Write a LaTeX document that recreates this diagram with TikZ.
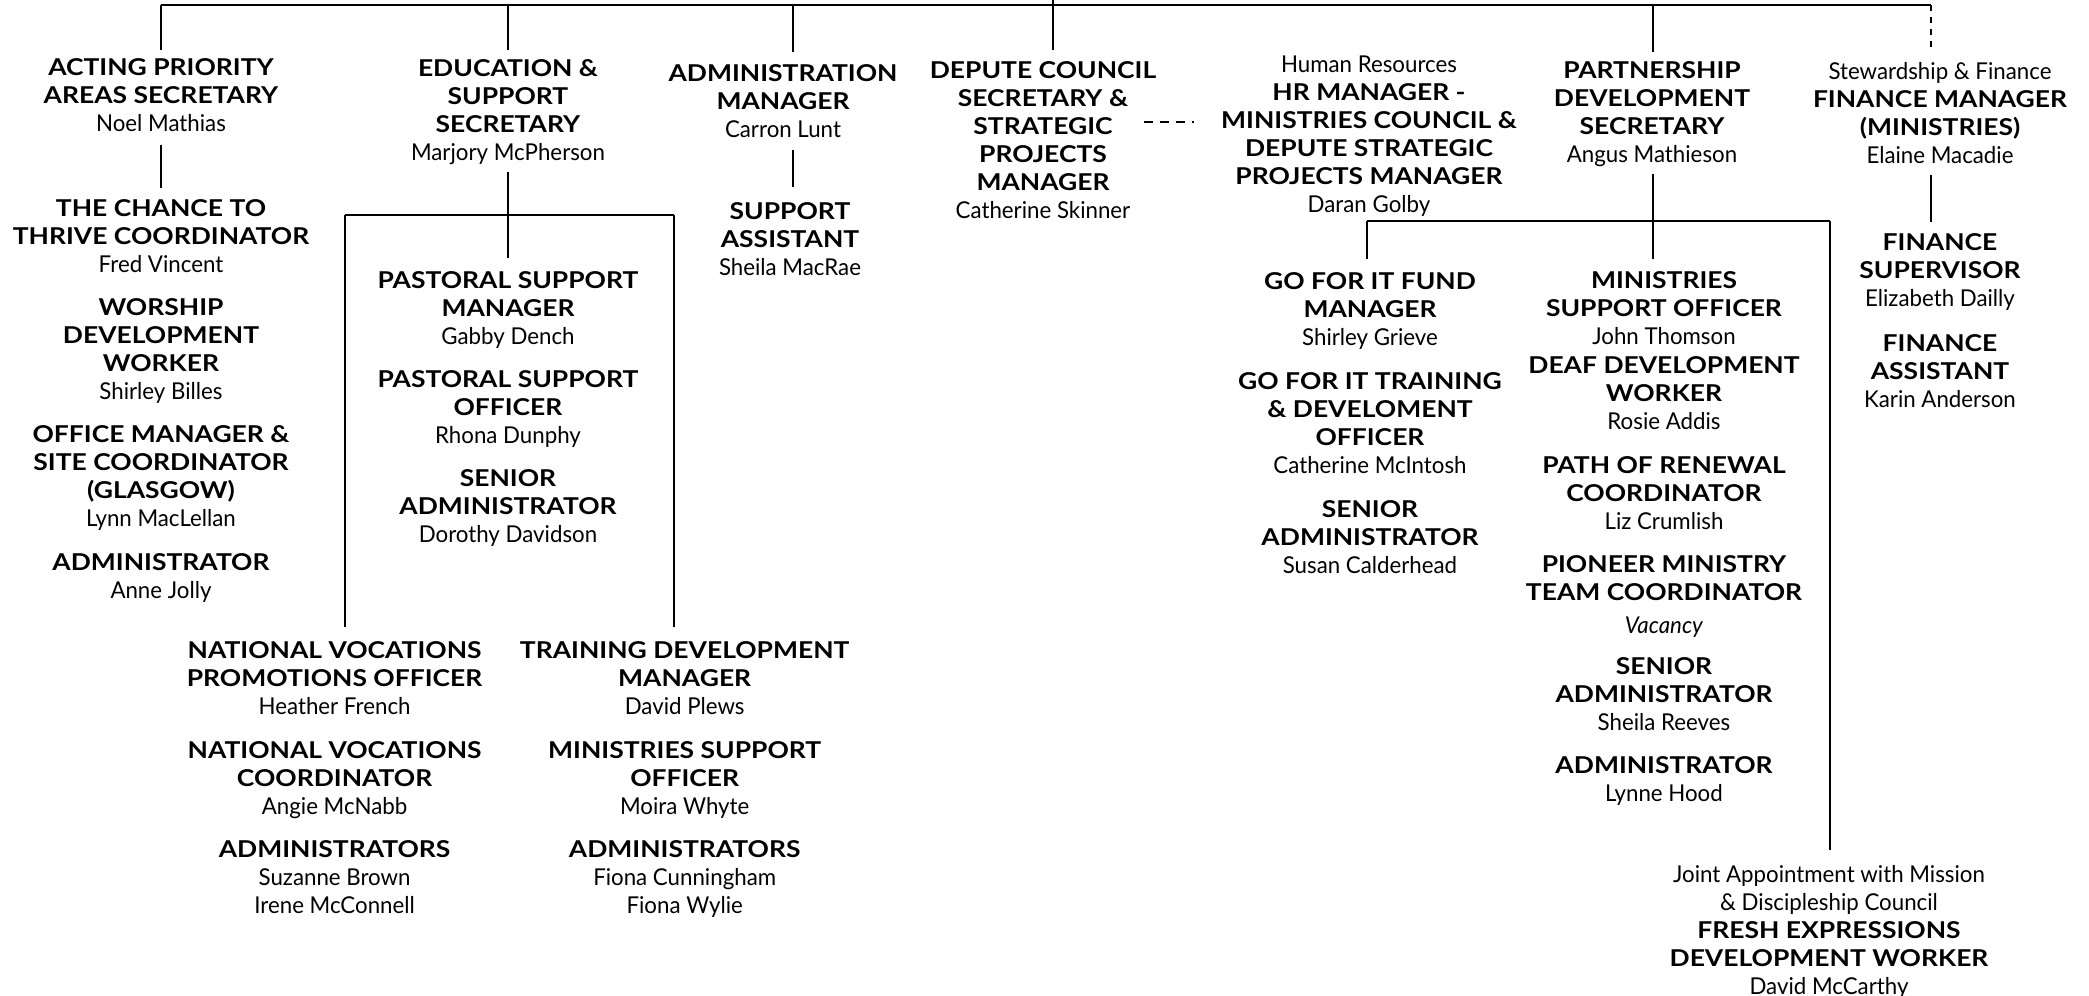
\documentclass[tikz,border=0pt]{standalone}
\usepackage{fontspec}
\setmainfont{Lato}[FakeStretch=0.96]
\newfontfamily\ttlfont{Lato}[FakeStretch=1.14]
\newcommand\rttl[1]{{\ttlfont\bfseries #1}}
\newcommand\rtop{\rule{0pt}{9.5pt}}
\newcommand\rbot{\rule[-3.5pt]{0pt}{3.5pt}}
\begin{document}
\begin{tikzpicture}[x=0.5pt,y=-0.5pt,
  blk/.style={anchor=north, align=center, inner sep=0pt, font=\fontsize{11.6}{14}\selectfont},
  conn/.style={line width=0.9pt, black},
  dconn/.style={line width=0.9pt, black, dash pattern=on 3pt off 3pt}]
\useasboundingbox (0,0) rectangle (2089,996);
% ---- column 1
\node[blk] (a1) at (161,56) {\rtop\rttl{ACTING PRIORITY}\\\rttl{AREAS SECRETARY}\\Noel Mathias\rbot};
\node[blk] (a2) at (161,197) {\rtop\rttl{THE CHANCE TO}\\\rttl{THRIVE COORDINATOR}\\Fred Vincent\rbot};
\node[blk] (a3) at (161,296.3) {\rtop\rttl{WORSHIP}\\\rttl{DEVELOPMENT}\\\rttl{WORKER}\\Shirley Billes\rbot};
\node[blk] (a4) at (161,423.3) {\rtop\rttl{OFFICE MANAGER \&}\\\rttl{SITE COORDINATOR}\\\rttl{(GLASGOW)}\\Lynn MacLellan\rbot};
\node[blk] (a5) at (161,551.3) {\rtop\rttl{ADMINISTRATOR}\\Anne Jolly\rbot};
% ---- column 2
\node[blk] (b1) at (508,57) {\rtop\rttl{EDUCATION \&}\\\rttl{SUPPORT}\\\rttl{SECRETARY}\\Marjory McPherson\rbot};
\node[blk] (b2) at (508,268.6) {\rtop\rttl{PASTORAL SUPPORT}\\\rttl{MANAGER}\\Gabby Dench\rbot};
\node[blk] (b3) at (508,368.3) {\rtop\rttl{PASTORAL SUPPORT}\\\rttl{OFFICER}\\Rhona Dunphy\rbot};
\node[blk] (b4) at (508,467.3) {\rtop\rttl{SENIOR}\\\rttl{ADMINISTRATOR}\\Dorothy Davidson\rbot};
\node[blk] (c1) at (334.6,639.3) {\rtop\rttl{NATIONAL VOCATIONS}\\\rttl{PROMOTIONS OFFICER}\\Heather French\rbot};
\node[blk] (c2) at (334.6,739.3) {\rtop\rttl{NATIONAL VOCATIONS}\\\rttl{COORDINATOR}\\Angie McNabb\rbot};
\node[blk] (c3) at (334.6,837.6) {\rtop\rttl{ADMINISTRATORS}\\Suzanne Brown\\Irene McConnell\rbot};
\node[blk] (d1) at (684.7,639.3) {\rtop\rttl{TRAINING DEVELOPMENT}\\\rttl{MANAGER}\\David Plews\rbot};
\node[blk] (d2) at (684.7,739.3) {\rtop\rttl{MINISTRIES SUPPORT}\\\rttl{OFFICER}\\Moira Whyte\rbot};
\node[blk] (d3) at (684.7,837.6) {\rtop\rttl{ADMINISTRATORS}\\Fiona Cunningham\\Fiona Wylie\rbot};
% ---- column 3
\node[blk] (e1) at (783,62) {\rtop\rttl{ADMINISTRATION}\\\rttl{MANAGER}\\Carron Lunt\rbot};
\node[blk] (e2) at (790,200.3) {\rtop\rttl{SUPPORT}\\\rttl{ASSISTANT}\\Sheila MacRae\rbot};
% ---- column 4
\node[blk] (f1) at (1043,59.3) {\rtop\rttl{DEPUTE COUNCIL}\\\rttl{SECRETARY \&}\\\rttl{STRATEGIC}\\\rttl{PROJECTS}\\\rttl{MANAGER}\\Catherine Skinner\rbot};
% ---- HR
\node[blk] (g1) at (1369,52.6) {\rtop Human Resources\\\rttl{HR MANAGER -}\\\rttl{MINISTRIES COUNCIL \&}\\\rttl{DEPUTE STRATEGIC}\\\rttl{PROJECTS MANAGER}\\Daran Golby\rbot};
\node[blk] (h1) at (1370,270.3) {\rtop\rttl{GO FOR IT FUND}\\\rttl{MANAGER}\\Shirley Grieve\rbot};
\node[blk] (h2) at (1370,369.8) {\rtop\rttl{GO FOR IT TRAINING}\\\rttl{\& DEVELOMENT}\\\rttl{OFFICER}\\Catherine McIntosh\rbot};
\node[blk] (h3) at (1370,497.6) {\rtop\rttl{SENIOR}\\\rttl{ADMINISTRATOR}\\Susan Calderhead\rbot};
% ---- partnership
\node[blk] (i1) at (1652,59.3) {\rtop\rttl{PARTNERSHIP}\\\rttl{DEVELOPMENT}\\\rttl{SECRETARY}\\Angus Mathieson\rbot};
\node[blk] (j1) at (1664,269.3) {\rtop\rttl{MINISTRIES}\\\rttl{SUPPORT OFFICER}\\John Thomson\rbot};
\node[blk] (j2) at (1664,353.6) {\rtop\rttl{DEAF DEVELOPMENT}\\\rttl{WORKER}\\Rosie Addis\rbot};
\node[blk] (j3) at (1664,453.6) {\rtop\rttl{PATH OF RENEWAL}\\\rttl{COORDINATOR}\\Liz Crumlish\rbot};
\node[blk] (j4) at (1664,552.6) {\rtop\rttl{PIONEER MINISTRY}\\\rttl{TEAM COORDINATOR}\\[2.5pt]\textit{Vacancy}\rbot};
\node[blk] (j5) at (1664,655.3) {\rtop\rttl{SENIOR}\\\rttl{ADMINISTRATOR}\\Sheila Reeves\rbot};
\node[blk] (j6) at (1664,754.3) {\rtop\rttl{ADMINISTRATOR}\\Lynne Hood\rbot};
\node[blk] (k1) at (1829,862.6) {\rtop Joint Appointment with Mission\\\& Discipleship Council\\\rttl{FRESH EXPRESSIONS}\\\rttl{DEVELOPMENT WORKER}\\David McCarthy\rbot};
% ---- finance
\node[blk] (l1) at (1940,60.3) {\rtop Stewardship \& Finance\\\rttl{FINANCE MANAGER}\\\rttl{(MINISTRIES)}\\Elaine Macadie\rbot};
\node[blk] (l2) at (1940,231) {\rtop\rttl{FINANCE}\\\rttl{SUPERVISOR}\\Elizabeth Dailly\rbot};
\node[blk] (l3) at (1940,331.6) {\rtop\rttl{FINANCE}\\\rttl{ASSISTANT}\\Karin Anderson\rbot};
% ---- junction coordinates
\coordinate (parent) at (1053,0);
\coordinate (tl) at (161,5);
\coordinate (tr) at (1931,5);
\coordinate (x2) at (508,5);
\coordinate (x3) at (793,5);
\coordinate (x6) at (1653,5);
\coordinate (hl) at (345,215);
\coordinate (hr) at (674,215);
\coordinate (pl) at (1367,221);
\coordinate (pr) at (1830,221);
\coordinate (dl) at (1144,121.7);
\coordinate (dr) at (1194,121.7);
% ---- connectors
\draw[conn] (tl) -- (tr);
\draw[conn, shorten >=3pt] (tl) -- (tl |- a1.north);
\draw[conn, shorten >=3.5pt] (x2) -- (x2 |- b1.north);
\draw[conn, shorten >=5pt] (x3) -- (x3 |- e1.north);
\draw[conn, shorten >=4.6pt] (parent) -- (parent |- f1.north);
\draw[conn, shorten >=3.6pt] (x6) -- (x6 |- i1.north);
\draw[dconn, shorten >=4.1pt] (tr) -- (tr |- l1.north);
\draw[conn, shorten <=3pt, shorten >=4.5pt] (a1.south) -- (a2.north);
\draw[conn, shorten <=2pt, shorten >=5.5pt] (b1.south) -- (b2.north);
\draw[conn] (hl) -- (hr);
\draw[conn, shorten >=6pt] (hl) -- (hl |- c1.north);
\draw[conn, shorten >=6pt] (hr) -- (hr |- d1.north);
\draw[conn, shorten <=2.8pt, shorten >=6.8pt] (x3 |- e1.south) -- (x3 |- e2.north);
\draw[conn, dash pattern=on 4.5pt off 3.5pt] (dl) -- (dr);
\draw[conn, shorten <=2pt, shorten >=5pt] (x6 |- i1.south) -- (x6 |- j1.north);
\draw[conn] (pl) -- (pr);
\draw[conn, shorten >=5.6pt] (pl) -- (pl |- h1.north);
\draw[conn, shorten >=6.3pt] (pr) -- (pr |- k1.north);
\draw[conn, shorten <=2pt, shorten >=4.6pt] (tr |- l1.south) -- (tr |- l2.north);
\end{tikzpicture}
\end{document}
